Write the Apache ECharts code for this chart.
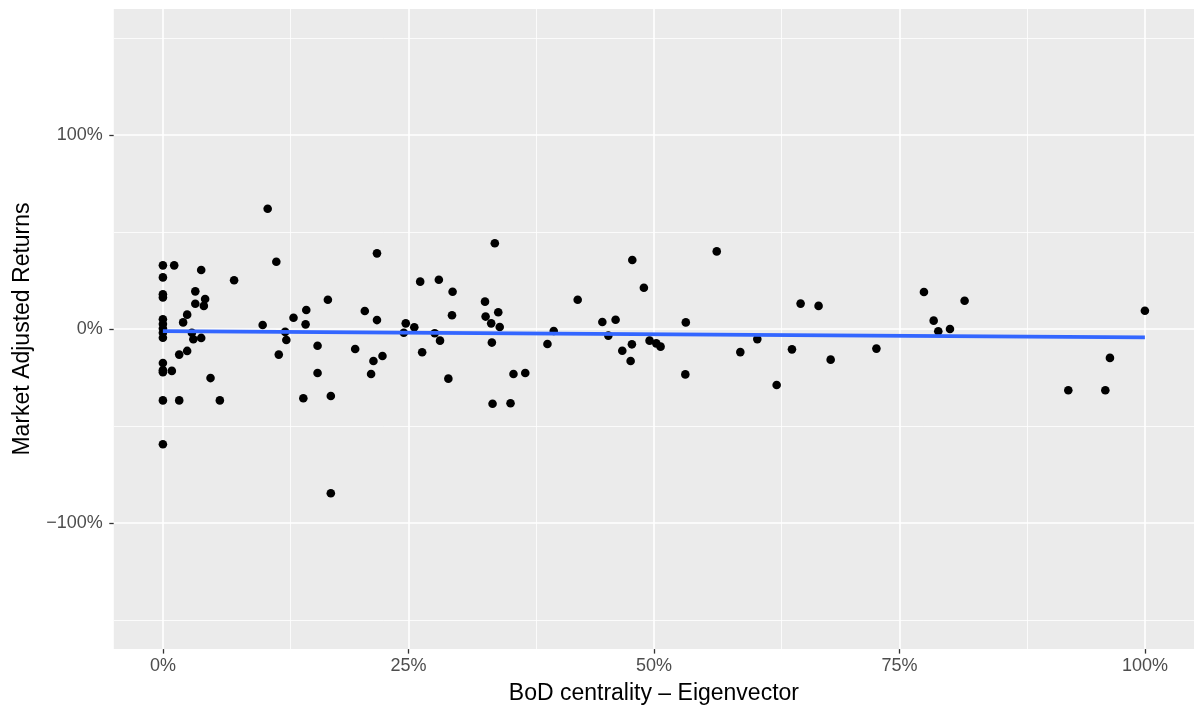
<!DOCTYPE html>
<html>
<head>
<meta charset="utf-8">
<title>Market Adjusted Returns vs BoD centrality</title>
<script src="https://cdn.jsdelivr.net/npm/echarts@6/dist/echarts.min.js"></script>
<style>
  html, body { margin: 0; padding: 0; background: #ffffff; }
  #chart { width: 1194px; height: 711px; }
</style>
</head>
<body>
<div id="chart"></div>
<script>
// Board centrality (eigenvector) of each firm, as a share of the maximum
const centrality = [
  0, 0, 0, 0, 0, 0, 0, 0, 0, 0, 0, 0, 0, 0,
  0.0115, 0.039, 0.1067, 0.1155, 0.0725, 0.033, 0.043, 0.033, 0.0417, 0.0247,
  0.0206, 0.0295, 0.031, 0.039, 0.1016, 0.1245, 0.1257, 0.133, 0.146, 0.1453,
  0.118, 0.0166, 0.0247, 0.0091, 0.0485, 0.0166, 0.058, 0.143, 0.168, 0.218,
  0.2056, 0.218, 0.1575, 0.1958, 0.1575, 0.171, 0.2236, 0.2144, 0.212, 0.171,
  0.2473, 0.2453, 0.256, 0.262, 0.281, 0.295, 0.2944, 0.2768, 0.2822, 0.264,
  0.2907, 0.328, 0.3286, 0.3343, 0.335, 0.3357, 0.338, 0.3415, 0.343, 0.357,
  0.369, 0.354, 0.398, 0.3916, 0.4224, 0.4475, 0.461, 0.4536, 0.4678, 0.4776,
  0.4763, 0.478, 0.4898, 0.4956, 0.5024, 0.5068, 0.5325, 0.532, 0.564, 0.6053,
  0.588, 0.625, 0.6406, 0.6494, 0.6677, 0.680, 0.7266, 0.775, 0.7849, 0.7896,
  0.8015, 0.8164, 1.0, 0.9644, 0.922, 0.9597
];

// Market adjusted return of the same firms
const returns = [
  0.328, 0.266, 0.179, 0.163, 0.050, 0.026, 0.003, -0.019, -0.045, -0.175, -0.212, -0.223, -0.368, -0.594,
  0.328, 0.304, 0.62, 0.347, 0.251, 0.194, 0.155, 0.130, 0.119, 0.074,
  0.034, -0.019, -0.053, -0.046, 0.021, -0.015, -0.057, 0.058, 0.098, 0.024,
  -0.132, -0.132, -0.113, -0.216, -0.253, -0.368, -0.368, -0.357, 0.151, 0.39,
  0.093, 0.046, -0.086, -0.103, -0.227, -0.345, -0.139, -0.165, -0.232, -0.847,
  0.029, -0.019, 0.009, 0.244, 0.254, 0.192, 0.071, -0.022, -0.06, -0.12,
  -0.256, 0.141, 0.064, 0.029, -0.07, -0.385, 0.442, 0.086, 0.010, -0.232,
  -0.227, -0.383, -0.01, -0.077, 0.151, 0.036, 0.048, -0.034, -0.112, -0.079,
  -0.165, 0.356, 0.213, -0.06, -0.074, -0.091, 0.034, -0.234, 0.40, -0.052,
  -0.119, -0.289, -0.105, 0.131, 0.119, -0.158, -0.101, 0.191, 0.043, -0.012,
  0.0, 0.146, 0.094, -0.149, -0.316, -0.316
];

// Linear trend: fitted return at centrality 0 and 1
const trendX = [0, 1];
const trendY = [-0.011, -0.043];

// Axis breaks
const xTicks = [0, 0.25, 0.5, 0.75, 1];
const xMinorBreaks = [0.125, 0.375, 0.625, 0.875];
const yTicks = [-1, 0, 1];
const yMinorBreaks = [-1.5, -0.5, 0.5, 1.5];

const points = centrality.map((x, i) => [x, returns[i]]);
const trend = trendX.map((x, i) => [x, trendY[i]]);

const pct = v => (v < 0 ? '\u2212' : '') + Math.abs(Math.round(v * 100)) + '%';

const majorStyle = { color: '#ffffff', width: 1.6, type: 'solid' };
const minorStyle = { color: '#ffffff', width: 0.8, type: 'solid' };

const gridLines = []
  .concat(xMinorBreaks.map(v => ({ xAxis: v, lineStyle: minorStyle })))
  .concat(yMinorBreaks.map(v => ({ yAxis: v, lineStyle: minorStyle })))
  .concat(xTicks.map(v => ({ xAxis: v, lineStyle: majorStyle })))
  .concat(yTicks.map(v => ({ yAxis: v, lineStyle: majorStyle })));

const FONT = '"Liberation Sans", Arial, Helvetica, sans-serif';

const chart = echarts.init(document.getElementById('chart'), null, { renderer: 'canvas' });

chart.setOption({
  animation: false,
  backgroundColor: '#ffffff',
  textStyle: { fontFamily: FONT },
  grid: {
    left: 113.8,
    top: 8.9,
    width: 1082.4,
    height: 640.2,
    show: true,
    backgroundColor: '#EBEBEB',
    borderWidth: 0,
    containLabel: false
  },
  xAxis: {
    type: 'value',
    min: -0.05,
    max: 1.05,
    name: 'BoD centrality \u2013 Eigenvector',
    nameLocation: 'middle',
    nameGap: 33,
    nameTextStyle: { color: '#000000', fontSize: 23, fontFamily: FONT },
    axisLine: { show: false, onZero: false },
    splitLine: { show: false },
    axisTick: {
      show: true,
      customValues: xTicks,
      length: 4.5,
      lineStyle: { color: '#333333', width: 1.3 }
    },
    axisLabel: {
      customValues: xTicks,
      formatter: pct,
      color: '#4D4D4D',
      fontSize: 18,
      margin: 8,
      fontFamily: FONT
    }
  },
  yAxis: {
    type: 'value',
    min: -1.65,
    max: 1.65,
    name: 'Market Adjusted Returns',
    nameLocation: 'middle',
    nameGap: 80,
    nameRotate: 90,
    nameTextStyle: { color: '#000000', fontSize: 23, fontFamily: FONT },
    axisLine: { show: false, onZero: false },
    splitLine: { show: false },
    axisTick: {
      show: true,
      customValues: yTicks,
      length: 4.5,
      lineStyle: { color: '#333333', width: 1.3 }
    },
    axisLabel: {
      customValues: yTicks,
      formatter: pct,
      color: '#4D4D4D',
      fontSize: 18,
      margin: 11,
      fontFamily: FONT
    }
  },
  series: [
    {
      name: 'panel grid',
      type: 'line',
      data: [],
      silent: true,
      z: 1,
      markLine: {
        z: 1,
        silent: true,
        symbol: ['none', 'none'],
        label: { show: false },
        emphasis: { disabled: true },
        animation: false,
        data: gridLines
      }
    },
    {
      name: 'firms',
      type: 'scatter',
      data: points,
      symbol: 'circle',
      symbolSize: 8.6,
      itemStyle: { color: '#000000', opacity: 1 },
      emphasis: { disabled: true },
      z: 6
    },
    {
      name: 'linear fit',
      type: 'line',
      data: trend,
      showSymbol: false,
      symbol: 'none',
      lineStyle: { color: '#3366FF', width: 3.6 },
      emphasis: { disabled: true },
      z: 7
    }
  ]
});
</script>
</body>
</html>
